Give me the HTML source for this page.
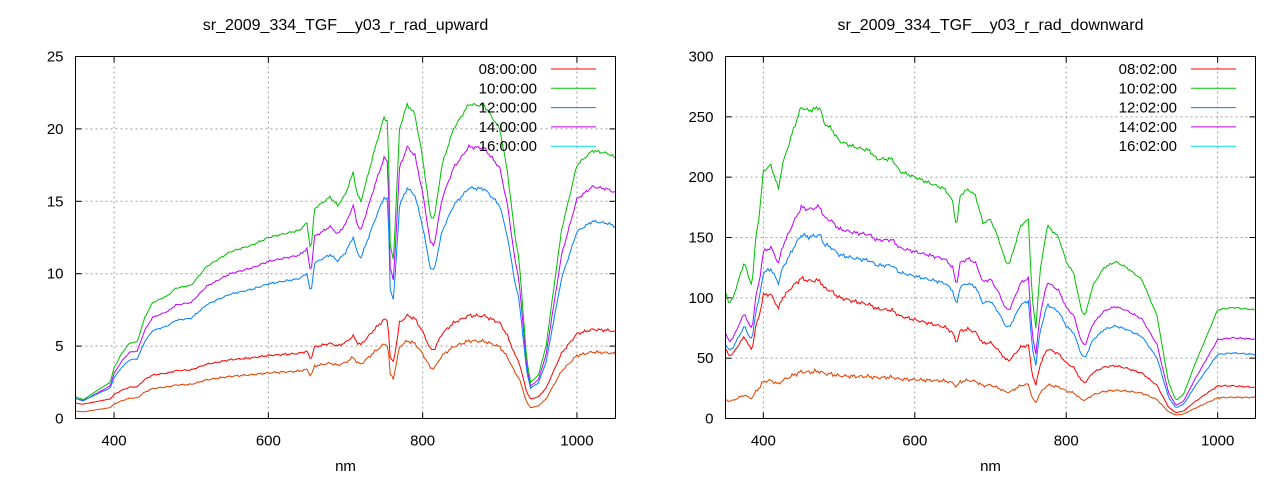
<!DOCTYPE html>
<html><head><meta charset="utf-8"><style>
body{margin:0;background:#fff;}
svg text{font-family:"Liberation Sans",sans-serif;font-size:15px;fill:#000;}
</style></head><body>
<svg id="s" width="1280" height="480" xmlns="http://www.w3.org/2000/svg"></svg>
<script>
const S=document.getElementById('s');let h='';
function interp(k,x){for(let i=0;i<k.length-1;i++){if(x<=k[i+1][0]){const t=(x-k[i][0])/(k[i+1][0]-k[i][0]);return k[i][1]+t*(k[i+1][1]-k[i][1]);}}return k[k.length-1][1];}
function noise(x,s){return Math.sin(x*1.7+s)*0.5+Math.sin(x*0.63+s*2)*0.5;}
const gL=[[350,1.5],[360,1.3],[380,2],[395,2.5],[400,3.5],[410,4.5],[420,5.2],[430,5.3],[440,7],[450,8],[470,8.5],[480,9],[500,9.2],[520,10.5],[550,11.5],[580,12],[600,12.5],[640,13],[650,13.5],[655,11.5],[660,14.5],[680,15.3],[690,14.7],[700,15.5],[710,17],[715,15.5],[720,15],[740,19],[750,20.8],[755,20.5],[758,12],[762,11],[765,14],[770,20],[780,21.7],[790,21],[800,18],[810,14],[815,13.8],[825,17.5],[840,20],[860,21.7],[880,21.6],[900,20],[910,17],[920,12.5],[925,11],[935,4],[940,2.5],[950,3],[960,5],[980,13],[1000,17.5],[1020,18.5],[1040,18.3],[1050,18]];
const gR=[[350,105],[355,95],[360,100],[370,120],[375,130],[380,118],[385,110],[390,150],[395,170],[400,205],[410,210],[415,200],[420,190],[425,210],[440,240],[450,258],[460,255],[475,258],[480,245],[490,240],[500,230],[520,225],[540,222],[550,215],[570,215],[580,205],[600,200],[620,195],[640,190],[650,180],[655,158],[660,185],[670,190],[680,185],[690,162],[700,165],[710,150],[720,130],[725,128],[740,160],[750,165],[755,100],[760,75],[765,120],[775,160],[790,150],[800,130],[810,120],[820,90],[825,85],[835,110],[850,125],[865,130],[880,125],[900,115],[910,100],[920,85],[935,30],[945,15],[955,20],[970,45],[990,75],[1000,90],[1020,92],[1050,90]];
const cols=['#ff0000','#00c000','#0080ff','#c000ff','#e04000'];
const leg=['#ff0000','#00c000','#0080ff','#c000ff','#00e0e0'];
function plot(o){
 const X=v=>o.x0+(v-350)/700*(o.x1-o.x0), Y=v=>o.y1-v/o.ymax*(o.y1-o.y0);
 for(const v of [400,600,800,1000]){h+=`<line x1="${X(v)}" y1="${o.y0}" x2="${X(v)}" y2="${o.y1}" stroke="#a0a0a0" stroke-dasharray="2,3"/>`;
  h+=`<line x1="${X(v)}" y1="${o.y1}" x2="${X(v)}" y2="${o.y1-6}" stroke="#000"/><line x1="${X(v)}" y1="${o.y0}" x2="${X(v)}" y2="${o.y0+6}" stroke="#000"/>`;
  h+=`<text x="${X(v)}" y="${o.y1+27}" text-anchor="middle">${v}</text>`;}
 for(let v=0;v<=o.ymax;v+=o.ystep){const y=Y(v);
  if(v>0&&v<o.ymax)h+=`<line x1="${o.x0}" y1="${y}" x2="${o.x1}" y2="${y}" stroke="#a0a0a0" stroke-dasharray="2,3"/>`;
  h+=`<line x1="${o.x0}" y1="${y}" x2="${o.x0+6}" y2="${y}" stroke="#000"/><line x1="${o.x1}" y1="${y}" x2="${o.x1-6}" y2="${y}" stroke="#000"/>`;
  h+=`<text x="${o.x0-12}" y="${y+5}" text-anchor="end">${v}</text>`;}
 h+=`<text x="${(o.x0+o.x1)/2}" y="30" text-anchor="middle" style="font-size:16px">${o.title}</text>`;
 h+=`<text x="${(o.x0+o.x1)/2}" y="471" text-anchor="middle">nm</text>`;
 for(let s=4;s>=0;s--){let p=[];
  for(let nm=350;nm<=1050;nm+=2){const g=interp(o.g,nm);const v=Math.max(0,o.f[s](g,nm)+noise(nm,s)*o.n*g/o.ymax*4);
   p.push(X(nm).toFixed(1)+','+Y(v).toFixed(1));}
  h+=`<polyline fill="none" stroke="${cols[s]}" stroke-width="1" points="${p.join(' ')}"/>`;}
 for(let i=0;i<5;i++){const y=69+i*19.3;
  h+=`<text x="${o.lx}" y="${y+5}" text-anchor="end">${o.labels[i]}</text>`;
  h+=`<line x1="${o.lx+14}" y1="${y}" x2="${o.lx+59}" y2="${y}" stroke="${leg[i]}"/>`;}
 h+=`<rect x="${o.x0}" y="${o.y0}" width="${o.x1-o.x0}" height="${o.y1-o.y0}" fill="none" stroke="#000"/>`;
}
plot({x0:75.5,x1:615.5,y0:56.5,y1:418.5,ymax:25,ystep:5,g:gL,n:0.04,lx:537,title:'sr_2009_334_TGF__y03_r_rad_upward',
 labels:['08:00:00','10:00:00','12:00:00','14:00:00','16:00:00'],
 f:[(g)=>0.3*g+0.6,(g)=>g,(g)=>0.72*g+0.3,(g)=>0.86*g+0.1,(g)=>0.24*g+0.15]});
plot({x0:725.5,x1:1255.5,y0:56.5,y1:418.5,ymax:300,ystep:50,g:gR,n:0.6,lx:1177,title:'sr_2009_334_TGF__y03_r_rad_downward',
 labels:['08:02:00','10:02:00','12:02:00','14:02:00','16:02:00'],
 f:[(g,n)=>g*(n<450?0.45+(450-n)*0.001:0.45-(n-450)/550*0.15),(g)=>g,(g)=>0.59*g,(g,n)=>g*(0.67+(n-350)/700*0.06),(g,n)=>g*(n<450?0.15:0.15+(n-450)/550*0.04)]});
S.innerHTML=h;
</script>
</body></html>
